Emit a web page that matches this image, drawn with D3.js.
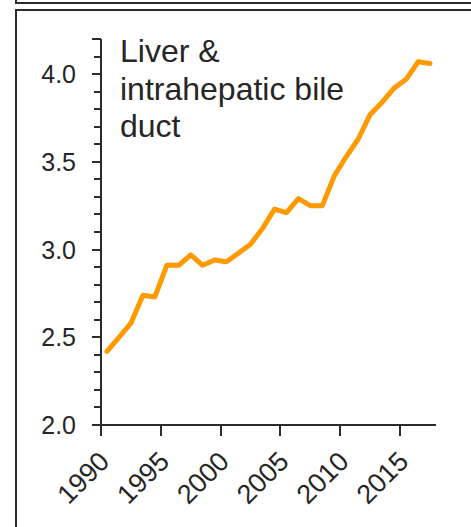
<!DOCTYPE html>
<html>
<head>
<meta charset="utf-8">
<script src="https://cdnjs.cloudflare.com/ajax/libs/d3/7.8.5/d3.min.js"></script>
<style>
  html, body { margin: 0; padding: 0; background: #fff; }
  svg { display: block; font-family: 'Liberation Sans', Arial, sans-serif; }
</style>
</head>
<body>
<svg id="chart"></svg>
<script>
'use strict';

var years = [1990, 1991, 1992, 1993, 1994, 1995, 1996, 1997, 1998, 1999,
             2000, 2001, 2002, 2003, 2004, 2005, 2006, 2007, 2008, 2009,
             2010, 2011, 2012, 2013, 2014, 2015, 2016, 2017];
var rates = [2.42, 2.50, 2.58, 2.74, 2.73, 2.91, 2.91, 2.97, 2.91, 2.94,
             2.93, 2.98, 3.03, 3.12, 3.23, 3.21, 3.29, 3.25, 3.25, 3.42,
             3.53, 3.63, 3.77, 3.84, 3.92, 3.97, 4.07, 4.06];
var yTicks = [2.0, 2.5, 3.0, 3.5, 4.0];
var xTicks = [1990, 1995, 2000, 2005, 2010, 2015];
var titleLines = ['Liver &', 'intrahepatic bile', 'duct'];

var width = 471,
    height = 527;

var svg = d3.select('#chart')
  .attr('width', width)
  .attr('height', height);

// panel frames (the one above is cut off)
svg.append('path')
  .attr('d', 'M16,0V3H475')
  .style('fill', 'none')
  .style('stroke', '#2b2b2b')
  .style('stroke-width', 2);
svg.append('path')
  .attr('d', 'M475,10H16V530')
  .style('fill', 'none')
  .style('stroke', '#2b2b2b')
  .style('stroke-width', 2);

var x = d3.scaleLinear().domain([1990, 2018]).range([101, 436]);
var y = d3.scaleLinear().domain([2.0, 4.2]).range([425, 39]);

// minor y ticks every 0.1
var minor = d3.range(20, 43).map(d => d / 10);
svg.append('g')
  .selectAll('line')
  .data(minor)
  .enter()
  .append('line')
  .attr('x1', d => yTicks.indexOf(d) >= 0 || d === 4.2 ? 92 : 94)
  .attr('x2', 101)
  .attr('y1', d => Math.round(y(d)))
  .attr('y2', d => Math.round(y(d)))
  .style('stroke', '#2b2b2b')
  .style('stroke-width', 2);

svg.append('line')
  .attr('x1', 101).attr('x2', 101)
  .attr('y1', y(4.2)).attr('y2', 425)
  .style('stroke', '#2b2b2b')
  .style('stroke-width', 2);

svg.append('g')
  .selectAll('text')
  .data(yTicks)
  .enter()
  .append('text')
  .attr('x', 76)
  .attr('y', d => y(d))
  .attr('dy', '0.36em')
  .attr('text-anchor', 'end')
  .style('font-size', '25px')
  .style('fill', '#262626')
  .text(d => d.toFixed(1));

// x axis
svg.append('line')
  .attr('x1', 100).attr('x2', x(2018))
  .attr('y1', 425).attr('y2', 425)
  .style('stroke', '#2b2b2b')
  .style('stroke-width', 2);

svg.append('g')
  .selectAll('line')
  .data(xTicks)
  .enter()
  .append('line')
  .attr('x1', d => Math.round(x(d)))
  .attr('x2', d => Math.round(x(d)))
  .attr('y1', 425)
  .attr('y2', 436)
  .style('stroke', '#2b2b2b')
  .style('stroke-width', 2);

svg.append('g')
  .selectAll('text')
  .data(xTicks)
  .enter()
  .append('text')
  .attr('transform', d => 'translate(' + (x(d) + 10) + ',463) rotate(-45)')
  .attr('text-anchor', 'end')
  .style('font-size', '27px')
  .style('fill', '#262626')
  .text(d => d);

// data line, points sit at mid-year
var line = d3.line()
  .x((d, i) => x(years[i] + 0.5))
  .y(d => y(d));

svg.append('path')
  .datum(rates)
  .attr('d', line)
  .style('fill', 'none')
  .style('stroke', '#ff9900')
  .style('stroke-width', 5)
  .style('stroke-linejoin', 'round')
  .style('stroke-linecap', 'round');

svg.append('g')
  .selectAll('text')
  .data(titleLines)
  .enter()
  .append('text')
  .attr('x', 120)
  .attr('y', (d, i) => 62 + i * 37.6)
  .style('font-size', '32px')
  .style('fill', '#262626')
  .text(d => d);
</script>
</body>
</html>
